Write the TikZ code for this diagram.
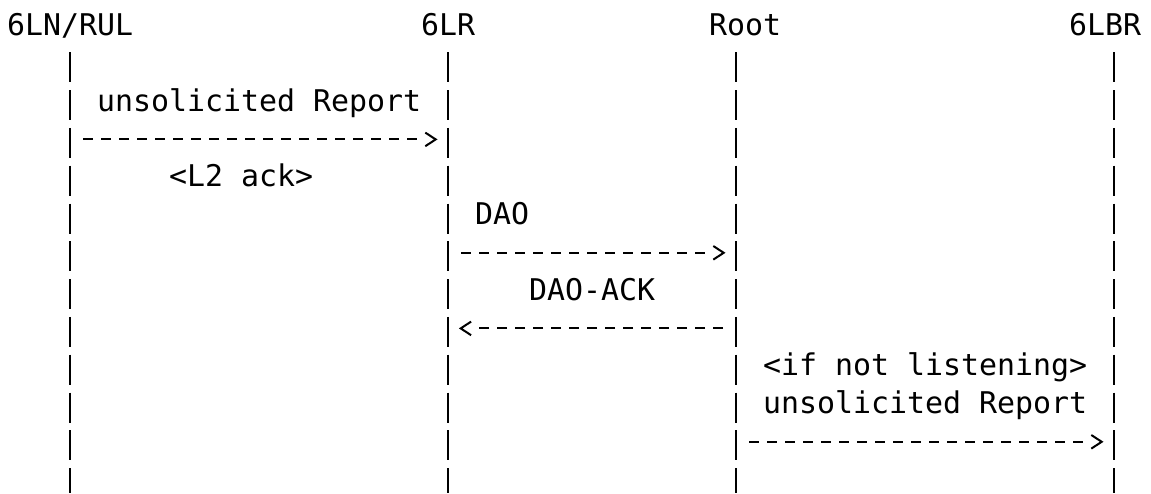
\documentclass[tikz,border=0pt]{standalone}
\usepackage{fontspec}
\usetikzlibrary{arrows.meta}
\newfontfamily\asciifont{DejaVu Sans Mono}
\pgfdeclarearrow{
  name = Chev,
  setup code = {
    \pgfarrowssettipend{0pt}
    \pgfarrowssetlineend{-7pt}
    \pgfarrowssetbackend{-5.2pt}
  },
  drawing code = {
    \pgfsetdash{}{0pt}
    \pgfsetmiterjoin
    \pgfpathmoveto{\pgfqpoint{-5.2pt}{3.4pt}}
    \pgfpathlineto{\pgfqpoint{0pt}{0pt}}
    \pgfpathlineto{\pgfqpoint{-5.2pt}{-3.4pt}}
    \pgfusepathqstroke
  }
}
\begin{document}
\begin{tikzpicture}[x=0.5pt,y=-0.5pt,
  lbl/.style={anchor=base west,inner sep=0pt,outer sep=0pt,
    font=\asciifont\fontsize{14.95pt}{18pt}\selectfont,text=black},
  life/.style={line width=1.25pt,dash pattern=on 15pt off 3.9pt},
  msg/.style={line width=1pt,dash pattern=on 5pt off 4pt,-{Chev}}]
\fill[white] (0,0) rectangle (1151,493);
\useasboundingbox (0,0) rectangle (1151,493);

% participants
\node[lbl] (h1) at (7.2,35.5) {6LN/RUL};
\node[lbl] (h2) at (421.2,35.5) {6LR};
\node[lbl] (h3) at (709.2,35.5) {Root};
\node[lbl] (h4) at (1069.2,35.5) {6LBR};

% lifelines
\coordinate (L1t) at (70.2,52.3);   \coordinate (L1b) at (70.2,493);
\coordinate (L2t) at (448.2,52.3);  \coordinate (L2b) at (448.2,493);
\coordinate (L3t) at (736.2,52.3);  \coordinate (L3b) at (736.2,493);
\coordinate (L4t) at (1114.2,52.3); \coordinate (L4b) at (1114.2,493);
\draw[life] (L1t) -- (L1b);
\draw[life] (L2t) -- (L2b);
\draw[life] (L3t) -- (L3b);
\draw[life] (L4t) -- (L4b);

% message labels
\node[lbl] (m1) at (97.2,111.1) {unsolicited Report};
\node[lbl] (m2) at (169.2,186.7) {<L2 ack>};
\node[lbl] (m3) at (475.2,224.5) {DAO};
\node[lbl] (m4) at (529.2,300.1) {DAO-ACK};
\node[lbl] (m5) at (763.2,375.7) {<if not listening>};
\node[lbl] (m6) at (763.2,413.5) {unsolicited Report};

% messages
\coordinate (a1s) at (83.2,139.4);  \coordinate (a1e) at (435.7,139.4);
\coordinate (a2s) at (461.2,252.8); \coordinate (a2e) at (723.7,252.8);
\coordinate (a3s) at (723.2,328.4); \coordinate (a3e) at (460.7,328.4);
\coordinate (a4s) at (749.2,441.8); \coordinate (a4e) at (1101.7,441.8);
\draw[msg] (a1s) -- (a1e);
\draw[msg] (a2s) -- (a2e);
\draw[msg] (a3s) -- (a3e);
\draw[msg] (a4s) -- (a4e);
\end{tikzpicture}
\end{document}
